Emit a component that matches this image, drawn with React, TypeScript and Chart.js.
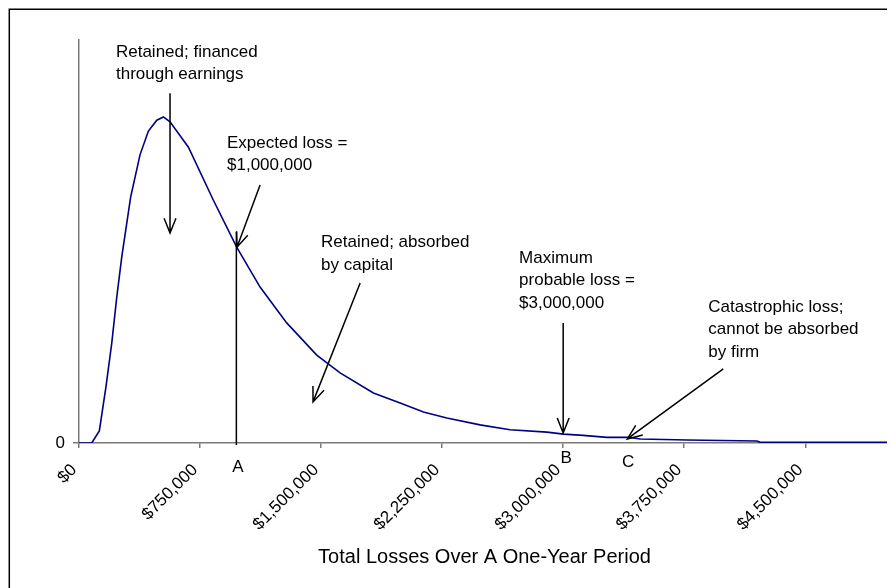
import React, { useEffect, useRef } from 'react';
import { Chart, registerables } from 'chart.js';

Chart.register(...registerables);

// Curve: total losses (x, $) vs relative probability (y)
const LOSS_X = [0, 79000, 126000, 167000, 203000, 234000, 265000, 320000, 378000, 430000, 482000, 523000, 564000, 678000, 832000, 977000, 1122000, 1287000, 1473000, 1618000, 1824000, 1990000, 2134000, 2279000, 2485000, 2671000, 2899000, 3002000, 3124000, 3271000, 3415000, 3477000, 3767000, 4200000, 4221000, 5025000];
const DENSITY = [0, 0, 0.03, 0.139, 0.248, 0.362, 0.462, 0.61, 0.715, 0.774, 0.801, 0.809, 0.797, 0.734, 0.603, 0.486, 0.387, 0.298, 0.218, 0.174, 0.124, 0.099, 0.077, 0.062, 0.045, 0.033, 0.027, 0.022, 0.019, 0.014, 0.014, 0.01, 0.0074, 0.005, 0.0017, 0.0017];

const X_MAX = 5025000;
const Y_MAX = 1;
const X_TICKS = [0, 750000, 1500000, 2250000, 3000000, 3750000, 4500000];
const X_TICK_LABELS = ['$0', '$750,000', '$1,500,000', '$2,250,000', '$3,000,000', '$3,750,000', '$4,500,000'];
const Y_TICKS = [0];
const Y_TICK_LABELS = ['0'];
const X_TITLE = 'Total Losses Over A One-Year Period';

// Text notes (left x, first baseline y in data units)
const NOTE_TEXTS = [
  ['Retained; financed', 'through earnings'],
  ['Expected loss =', '$1,000,000'],
  ['Retained; absorbed', 'by capital'],
  ['Maximum', 'probable loss =', '$3,000,000'],
  ['Catastrophic loss;', 'cannot be absorbed', 'by firm'],
];
const NOTE_X = [229000, 917000, 1500000, 2727000, 3899000];
const NOTE_Y = [0.958, 0.732, 0.486, 0.447, 0.325];

// Arrows (from -> to, data units)
const ARROW_FROM_X = [564000, 1122000, 1742000, 3000000, 3992000];
const ARROW_FROM_Y = [0.868, 0.64, 0.397, 0.298, 0.184];
const ARROW_TO_X = [564000, 979000, 1450000, 3000000, 3397000];
const ARROW_TO_Y = [0.521, 0.486, 0.102, 0.025, 0.01];

// Expected loss vertical line
const EXPECTED_LINE_X = 975000;
const EXPECTED_LINE_TOP = 0.524;

// Point markers under axis
const MARKER_LABELS = ['A', 'B', 'C'];
const MARKER_X = [985000, 3018000, 3403000];
const MARKER_Y = [-0.072, -0.05, -0.06];

const FONT = "'Liberation Sans', Arial, sans-serif";

const annotationPlugin = {
  id: 'riskAnnotations',
  beforeDraw(chart: any) {
    const { ctx, width, height } = chart;
    ctx.save();
    ctx.fillStyle = '#ffffff';
    ctx.fillRect(0, 0, width, height);
    ctx.strokeStyle = '#000000';
    ctx.lineWidth = 1.5;
    ctx.beginPath();
    ctx.moveTo(1.3, height);
    ctx.lineTo(1.3, 1.3);
    ctx.lineTo(width, 1.3);
    ctx.stroke();
    ctx.restore();
  },
  afterDatasetsDraw(chart: any) {
    const { ctx } = chart;
    const xs = chart.scales.x;
    const ys = chart.scales.y;
    const px = (v: number) => xs.getPixelForValue(v);
    const py = (v: number) => ys.getPixelForValue(v);
    ctx.save();
    ctx.strokeStyle = '#000000';
    ctx.fillStyle = '#000000';
    ctx.lineWidth = 1.5;

    // expected loss line
    ctx.beginPath();
    ctx.moveTo(px(EXPECTED_LINE_X), py(0) + 2);
    ctx.lineTo(px(EXPECTED_LINE_X), py(EXPECTED_LINE_TOP));
    ctx.stroke();

    // arrows
    for (let i = 0; i < ARROW_FROM_X.length; i++) {
      const x1 = px(ARROW_FROM_X[i]);
      const y1 = py(ARROW_FROM_Y[i]);
      const x2 = px(ARROW_TO_X[i]);
      const y2 = py(ARROW_TO_Y[i]);
      ctx.beginPath();
      ctx.moveTo(x1, y1);
      ctx.lineTo(x2, y2);
      const ang = Math.atan2(y2 - y1, x2 - x1);
      const hl = 16;
      const ha = 0.38;
      ctx.moveTo(x2 - hl * Math.cos(ang - ha), y2 - hl * Math.sin(ang - ha));
      ctx.lineTo(x2, y2);
      ctx.lineTo(x2 - hl * Math.cos(ang + ha), y2 - hl * Math.sin(ang + ha));
      ctx.stroke();
    }

    // notes
    ctx.font = `17px ${FONT}`;
    ctx.textAlign = 'left';
    ctx.textBaseline = 'alphabetic';
    for (let i = 0; i < NOTE_TEXTS.length; i++) {
      const x = px(NOTE_X[i]);
      const y = py(NOTE_Y[i]);
      NOTE_TEXTS[i].forEach((line, j) => ctx.fillText(line, x, y + j * 22.4));
    }

    // markers
    ctx.textAlign = 'center';
    for (let i = 0; i < MARKER_LABELS.length; i++) {
      ctx.fillText(MARKER_LABELS[i], px(MARKER_X[i]), py(MARKER_Y[i]));
    }
    ctx.restore();
  },
};

export default function App() {
  const ref = useRef<HTMLCanvasElement>(null);
  useEffect(() => {
    document.documentElement.style.overflow = 'hidden';
    document.body.style.overflow = 'hidden';
    const canvas = ref.current;
    if (!canvas) return;
    const chart = new Chart(canvas, {
      type: 'line',
      data: {
        datasets: [
          {
            data: LOSS_X.map((x, i) => ({ x, y: DENSITY[i] })),
            borderColor: '#000080',
            borderWidth: 1.6,
            pointRadius: 0,
            tension: 0,
            fill: false,
          },
        ],
      },
      options: {
        responsive: false,
        animation: false,
        events: [],
        layout: { padding: { top: 32, right: 20, left: 0, bottom: 0 } },
        plugins: { legend: { display: false }, tooltip: { enabled: false } },
        scales: {
          x: {
            type: 'linear',
            min: 0,
            max: X_MAX,
            afterBuildTicks: (s: any) => {
              s.ticks = X_TICKS.map((v) => ({ value: v }));
            },
            afterFit: (s: any) => {
              s.height = 145;
            },
            grid: { display: true, drawOnChartArea: false, drawTicks: true, tickLength: 5, color: '#7a7a7a', lineWidth: 1.5 },
            border: { display: true, color: '#7a7a7a', width: 1.5 },
            ticks: {
              autoSkip: false,
              minRotation: 45,
              maxRotation: 45,
              padding: 12,
              labelOffset: -5,
              color: '#000000',
              font: { family: FONT, size: 17 },
              callback: (v: any) => {
                const i = X_TICKS.indexOf(Number(v));
                return i >= 0 ? X_TICK_LABELS[i] : '';
              },
            },
            title: {
              display: true,
              text: X_TITLE,
              color: '#000000',
              font: { family: FONT, size: 20 },
              padding: { top: 0, bottom: 19 },
            },
          },
          y: {
            type: 'linear',
            min: 0,
            max: Y_MAX,
            afterBuildTicks: (s: any) => {
              s.ticks = Y_TICKS.map((v) => ({ value: v }));
            },
            afterFit: (s: any) => {
              s.width = 71;
            },
            grid: { display: true, drawOnChartArea: false, drawTicks: true, tickLength: 6, color: '#7a7a7a', lineWidth: 1.5 },
            border: { display: true, color: '#7a7a7a', width: 1.5 },
            ticks: {
              padding: 8,
              color: '#000000',
              font: { family: FONT, size: 17 },
              callback: (v: any) => {
                const i = Y_TICKS.indexOf(Number(v));
                return i >= 0 ? Y_TICK_LABELS[i] : '';
              },
            },
          },
        },
      },
      plugins: [annotationPlugin],
    });
    return () => chart.destroy();
  }, []);
  return (
    <div style={{ width: 902, height: 580 }}>
      <canvas ref={ref} width={902} height={580} style={{ display: 'block', width: 902, height: 580 }} />
    </div>
  );
}
